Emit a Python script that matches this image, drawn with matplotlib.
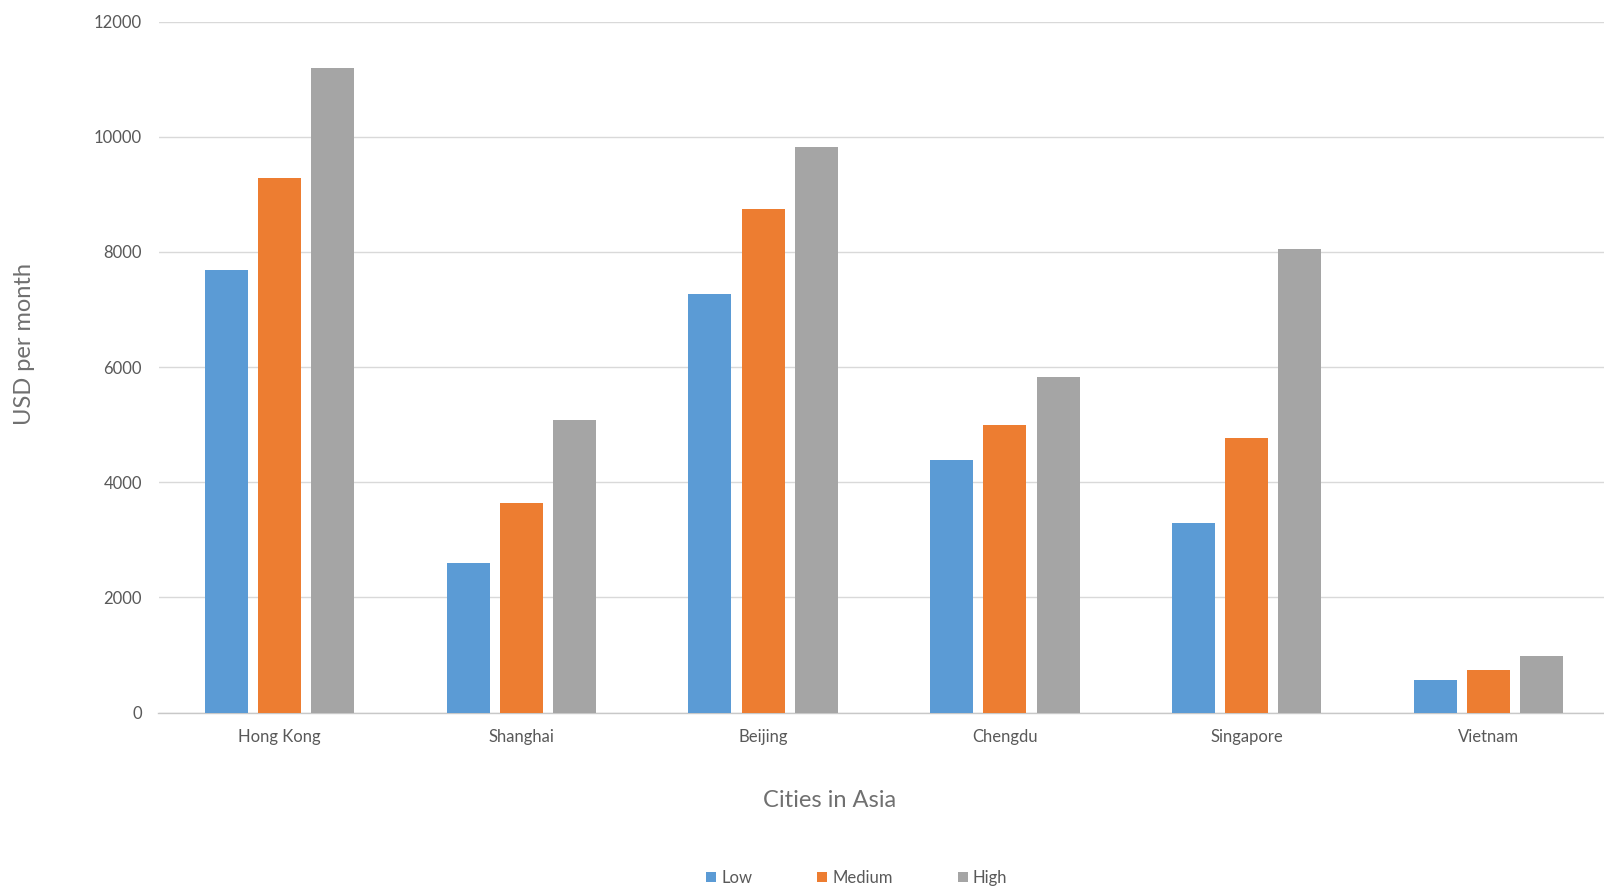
import numpy as np
import matplotlib
matplotlib.use('Agg')
import matplotlib.pyplot as plt

# rent per month by city, three price bands
cities = ['Hong Kong', 'Shanghai', 'Beijing', 'Chengdu', 'Singapore', 'Vietnam']
low = [7680, 2600, 7270, 4380, 3290, 570]
medium = [9290, 3640, 8740, 4990, 4760, 730]
high = [11190, 5080, 9820, 5830, 8050, 990]
series_names = ['Low', 'Medium', 'High']
colors = ['#5B9BD5', '#ED7D31', '#A5A5A5']
y_ticks = [0, 2000, 4000, 6000, 8000, 10000, 12000]

plt.rcParams['font.family'] = ['Lato', 'DejaVu Sans']

fig = plt.figure(figsize=(16.04, 8.88), dpi=100)
# plot area runs right to the edge of the figure
ax = fig.add_axes([158.5 / 1604, (888 - 712.5) / 888, 1451 / 1604, (712.5 - 21.7) / 888])

x = np.arange(len(cities))
width = 0.178
pitch = 0.22
for i, (vals, name, col) in enumerate(zip([low, medium, high], series_names, colors)):
    ax.bar(x + (i - 1) * pitch, vals, width=width, color=col, label=name, zorder=3)

ax.set_xlim(-0.5, len(cities) - 0.5)
ax.set_ylim(0, 12000)
ax.set_yticks(y_ticks)
ax.set_yticklabels([str(v) for v in y_ticks])
ax.set_xticks(x)
ax.set_xticklabels(cities)
ax.tick_params(axis='both', length=0, labelsize=12, colors='#595959')
ax.tick_params(axis='y', pad=12)
ax.tick_params(axis='x', pad=12)

ax.grid(axis='y', color='#D9D9D9', linewidth=1.0, zorder=0)
for side in ['top', 'right', 'left']:
    ax.spines[side].set_visible(False)
ax.spines['bottom'].set_color('#C8C8C8')
ax.spines['bottom'].set_linewidth(1.0)

fig.text(25 / 1604, 1 - 344 / 888, 'USD per month', rotation=90, ha='center', va='center',
         fontsize=17, color='#707070')
fig.text(830 / 1604, 1 - 800 / 888, 'Cities in Asia', ha='center', va='center',
         fontsize=17, color='#707070')

leg = fig.legend(loc='center', bbox_to_anchor=(857 / 1604, 1 - 878 / 888), ncol=3,
                 frameon=False, handlelength=0.6, handleheight=0.6, handletextpad=0.3,
                 columnspacing=3.9, fontsize=12)
for t in leg.get_texts():
    t.set_color('#595959')

fig.savefig('out.png', dpi=100, facecolor='white')
